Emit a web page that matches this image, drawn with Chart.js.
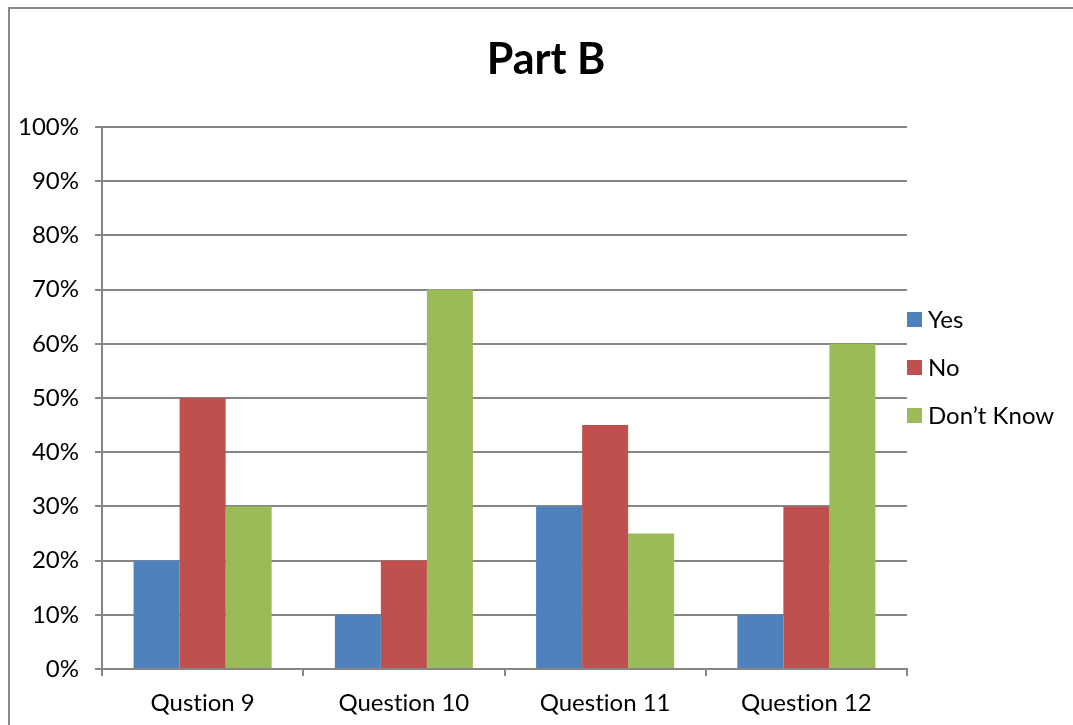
<!DOCTYPE html>
<html>
<head>
<meta charset="utf-8">
<script src="https://cdn.jsdelivr.net/npm/chart.js@4/dist/chart.umd.min.js"></script>
<style>
  html, body { margin: 0; padding: 0; background: #fff; overflow: hidden; }
  #wrap { position: relative; width: 1073px; height: 725px; }
  #frame { position: absolute; left: 8px; top: 7px; width: 1200px; height: 800px;
           border-left: 2px solid #8a8a8a; border-top: 2px solid #8a8a8a; }
  canvas { position: absolute; left: 0; top: 0; }
</style>
</head>
<body>
<div id="wrap">
  <div id="frame"></div>
  <canvas id="c" width="1073" height="725"></canvas>
</div>
<script>
const categories = ['Qustion 9', 'Question 10', 'Question 11', 'Question 12'];
const seriesNames = ['Yes', 'No', 'Don\u2019t Know'];
const yesValues = [20, 10, 30, 10];
const noValues = [50, 20, 45, 30];
const dontKnowValues = [30, 70, 25, 60];
const seriesColors = ['#4F81BD', '#C0504D', '#9BBB59'];
const chartTitle = 'Part B';

const FONT = 'Lato, Calibri, "Open Sans", sans-serif';
const GRID = '#868686';

// Plain glyphs, no "ti"-style ligatures in the labels
const plainText = {
  id: 'plainText',
  beforeDraw(chart) {
    const ctx = chart.ctx;
    if ('textRendering' in ctx) ctx.textRendering = 'optimizeSpeed';
    if ('fontKerning' in ctx) ctx.fontKerning = 'normal';
  }
};

// Title centred across the whole frame, and a legend stacked beside the plot
const frameText = {
  id: 'frameText',
  afterDraw(chart) {
    const ctx = chart.ctx;
    ctx.save();
    ctx.fillStyle = '#000';
    ctx.font = 'bold 43px ' + FONT;
    ctx.textAlign = 'center';
    ctx.textBaseline = 'middle';
    ctx.fillText(chartTitle, 546, 60);

    const x = chart.chartArea.right;
    const centers = [320, 368, 416];
    ctx.font = '24px ' + FONT;
    ctx.textAlign = 'left';
    chart.data.datasets.forEach((ds, i) => {
      const cy = centers[i];
      ctx.fillStyle = ds.backgroundColor;
      ctx.fillRect(x, cy - 8, 15, 15);
      ctx.fillStyle = '#000';
      ctx.fillText(ds.label, x + 21, cy);
    });
    ctx.restore();
  }
};

new Chart(document.getElementById('c'), {
  type: 'bar',
  data: {
    labels: categories,
    datasets: [
      { label: seriesNames[0], data: yesValues, backgroundColor: seriesColors[0] },
      { label: seriesNames[1], data: noValues, backgroundColor: seriesColors[1] },
      { label: seriesNames[2], data: dontKnowValues, backgroundColor: seriesColors[2] }
    ]
  },
  options: {
    responsive: false,
    animation: false,
    devicePixelRatio: 1,
    layout: { padding: { left: 0, right: 166, top: 127, bottom: 0 } },
    datasets: { bar: { categoryPercentage: 0.686, barPercentage: 1.0, borderWidth: 0 } },
    plugins: {
      legend: { display: false },
      tooltip: { enabled: false },
      title: { display: false }
    },
    scales: {
      x: {
        afterFit(scale) { scale.height = 56; },
        grid: { display: true, offset: true, drawOnChartArea: false, drawTicks: true,
                tickLength: 7, color: GRID, lineWidth: 2 },
        border: { display: true, color: GRID, width: 2 },
        ticks: { color: '#000', font: { family: FONT, size: 24 }, padding: 13, maxRotation: 0 }
      },
      y: {
        min: 0, max: 100,
        afterFit(scale) { scale.width = 102; },
        grid: { color: GRID, lineWidth: 2, drawTicks: true, tickLength: 7 },
        border: { display: true, color: GRID, width: 2 },
        ticks: { stepSize: 10, color: '#000', font: { family: FONT, size: 24 }, padding: 16,
                 callback: v => v + '%' }
      }
    }
  },
  plugins: [plainText, frameText]
});
</script>
</body>
</html>
